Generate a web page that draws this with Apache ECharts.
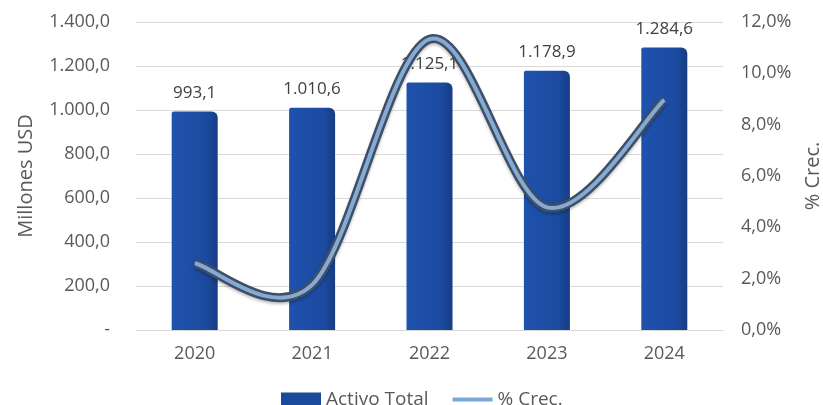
<!DOCTYPE html>
<html>
<head>
<meta charset="utf-8">
<script src="https://cdn.jsdelivr.net/npm/echarts@6/dist/echarts.min.js"></script>
<style>html,body{margin:0;padding:0;background:#fff}#c{width:823px;height:405px}</style>
</head>
<body>
<div id="c"></div>
<script>
var categories = ['2020', '2021', '2022', '2023', '2024'];
var activoTotal = [993.1, 1010.6, 1125.1, 1178.9, 1284.6];
var crecimiento = [2.6, 1.76, 11.33, 4.78, 8.97];
var leftTicks = [0, 200, 400, 600, 800, 1000, 1200, 1400];
var rightTicks = [0, 2, 4, 6, 8, 10, 12];

function fmt(v, d) {
  var s = v.toFixed(d);
  var parts = s.split('.');
  var ip = parts[0].replace(/\B(?=(\d{3})+(?!\d))/g, '.');
  return parts.length > 1 ? ip + ',' + parts[1] : ip;
}

var FONT = 'Open Sans';
var GRAY = '#595959';

// Smooth path (Catmull-Rom style, like spreadsheet smoothed lines) through points given by the axis scales
function smoothPath(pts) {
  var d = 'M' + pts[0][0] + ',' + pts[0][1];
  for (var i = 0; i < pts.length - 1; i++) {
    var p0 = pts[i - 1] || pts[i];
    var p1 = pts[i];
    var p2 = pts[i + 1];
    var p3 = pts[i + 2] || pts[i + 1];
    var c1x = p1[0] + (p2[0] - p0[0]) / 6;
    var c1y = p1[1] + (p2[1] - p0[1]) / 6;
    var c2x = p2[0] - (p3[0] - p1[0]) / 6;
    var c2y = p2[1] - (p3[1] - p1[1]) / 6;
    d += ' C' + c1x + ',' + c1y + ' ' + c2x + ',' + c2y + ' ' + p2[0] + ',' + p2[1];
  }
  return d;
}

var chart = echarts.init(document.getElementById('c'));
chart.setOption({
  animation: false,
  textStyle: { fontFamily: FONT },
  grid: { left: 136, right: 100, top: 22, bottom: 75, containLabel: false, outerBoundsMode: 'none' },
  legend: {
    top: 385,
    left: 276,
    itemGap: 24,
    itemWidth: 40,
    itemHeight: 14,
    textStyle: { color: GRAY, fontSize: 19, fontFamily: FONT },
    data: [
      { name: 'Activo Total', icon: 'rect', itemStyle: { color: '#1a4a9c' } },
      { name: '% Crec.', icon: 'path://M0,0 L40,0 L40,4 L0,4 Z', itemStyle: { color: '#7aa6d8' } }
    ]
  },
  xAxis: {
    type: 'category',
    data: categories,
    axisLine: { show: true, lineStyle: { color: '#d9d9d9' } },
    axisTick: { show: false },
    axisLabel: { color: GRAY, fontSize: 18, margin: 15 }
  },
  yAxis: [{
    type: 'value',
    min: 0, max: 1400, interval: 200,
    name: 'Millones USD',
    nameLocation: 'middle',
    nameGap: 100,
    nameRotate: 90,
    nameTextStyle: { color: GRAY, fontSize: 20 },
    axisLine: { show: false },
    axisTick: { show: false },
    splitLine: { lineStyle: { color: '#d9d9d9', width: 1 } },
    axisLabel: {
      color: GRAY, fontSize: 18, margin: 26,
      formatter: function (v) { return v === 0 ? '-' : fmt(v, 1); }
    }
  }, {
    type: 'value',
    min: 0, max: 12, interval: 2,
    name: '% Crec.',
    nameLocation: 'middle',
    nameGap: 80,
    nameRotate: 90,
    nameTextStyle: { color: GRAY, fontSize: 20 },
    axisLine: { show: false },
    axisTick: { show: false },
    splitLine: { show: false },
    axisLabel: {
      color: GRAY, fontSize: 18, margin: 18,
      formatter: function (v) { return fmt(v, 1) + '%'; }
    }
  }],
  series: [{
    name: 'Activo Total',
    type: 'bar',
    data: activoTotal,
    barWidth: 46,
    itemStyle: {
      color: new echarts.graphic.LinearGradient(0, 0, 1, 0, [
        { offset: 0, color: '#1f52ad' },
        { offset: 0.75, color: '#1b4ba0' },
        { offset: 1, color: '#163c84' }
      ]),
      borderRadius: [2, 6, 0, 0]
    },
    label: {
      show: true, position: 'top', distance: 10,
      color: '#404040', fontSize: 17,
      formatter: function (p) { return fmt(p.value, 1); }
    },
    z: 2
  }, {
    name: '% Crec.',
    type: 'custom',
    yAxisIndex: 1,
    data: crecimiento.map(function (v, i) { return [i, v]; }),
    encode: { x: 0, y: 1 },
    renderItem: function (params, api) {
      if (params.dataIndex !== 0) return;
      var pts = crecimiento.map(function (v, i) { return api.coord([i, v]); });
      var d = smoothPath(pts);
      return {
        type: 'group',
        children: [{
          type: 'path',
          shape: { pathData: d },
          style: { fill: null, stroke: '#3e4e66', lineWidth: 9, lineCap: 'butt', lineJoin: 'round',
                   shadowColor: 'rgba(0,0,0,0.25)', shadowBlur: 3, shadowOffsetY: 2 }
        }, {
          type: 'path',
          shape: { pathData: d },
          style: { fill: null, stroke: '#86abd3', lineWidth: 4, lineCap: 'butt', lineJoin: 'round' }
        }]
      };
    },
    z: 4
  }]
});
</script>
</body>
</html>
